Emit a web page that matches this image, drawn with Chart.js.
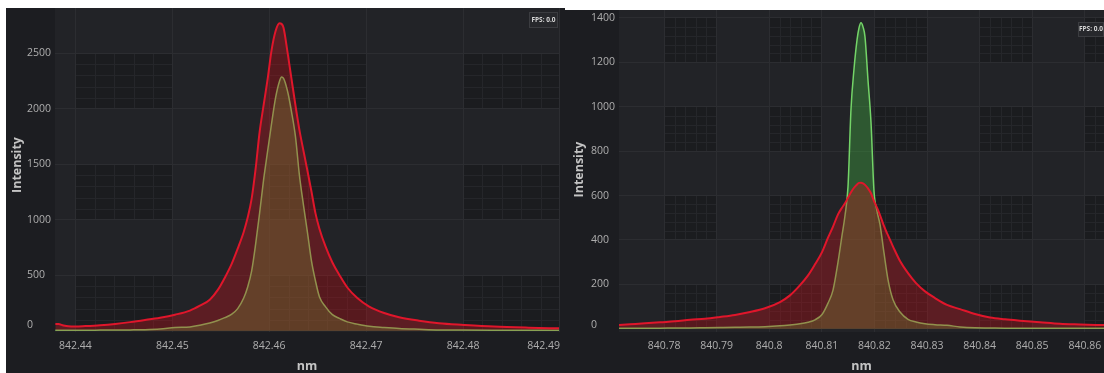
<!DOCTYPE html>
<html>
<head>
<meta charset="utf-8">
<script src="https://cdn.jsdelivr.net/npm/chart.js@4.4.1/dist/chart.umd.min.js"></script>
<style>
  html, body { margin: 0; padding: 0; background: #ffffff; width: 1104px; height: 373px; overflow: hidden; }
  canvas { position: absolute; display: block; background: #1c1d21; }
  #spectrumA { left: 6px; top: 8px; }
  #spectrumB { left: 565px; top: 10px; }
</style>
</head>
<body>
<canvas id="spectrumA" width="559" height="365"></canvas>
<canvas id="spectrumB" width="539" height="363"></canvas>
<script>
// ---- Spectrum A: line near 842.46 nm ----
const wavelengthA = [
  842.43794, 842.43825, 842.43877, 842.43928, 842.44000, 842.44103, 842.44257, 842.44411, 842.44565, 842.44719,
  842.44874, 842.45028, 842.45182, 842.45285, 842.45387, 842.45470, 842.45542, 842.45614, 842.45675, 842.45737,
  842.45778, 842.45819, 842.45860, 842.45901, 842.45942, 842.45984, 842.46025, 842.46066, 842.46107, 842.46127,
  842.46148, 842.46189, 842.46230, 842.46271, 842.46312, 842.46354, 842.46395, 842.46436, 842.46477, 842.46518,
  842.46580, 842.46652, 842.46724, 842.46806, 842.46909, 842.47032, 842.47186, 842.47340, 842.47546, 842.47751,
  842.48008, 842.48317, 842.48676, 842.48990
];
const redA = [
  60, 60, 48, 40, 38, 42, 50, 62, 78, 97,
  118, 145, 182, 226, 280, 368, 478, 605, 740, 890,
  1020, 1190, 1460, 1790, 2030, 2270, 2530, 2700, 2770, 2765,
  2730, 2510, 2270, 2030, 1808, 1620, 1440, 1255, 1060, 920,
  762, 615, 503, 390, 295, 218, 160, 122, 91, 68,
  53, 38, 28, 22
];
const greenA = [
  5, 5, 4, 4, 4, 5, 6, 7, 8, 10,
  16, 29, 35, 50, 70, 92, 118, 150, 200, 295,
  395, 540, 780, 1060, 1360, 1620, 1870, 2100, 2250, 2286,
  2275, 2160, 1975, 1750, 1400, 1130, 885, 630, 451, 307,
  218, 145, 112, 80, 60, 41, 30, 21, 14, 8,
  6, 5, 5, 5
];
const xTicksA = [842.44, 842.45, 842.46, 842.47, 842.48, 842.49];
const yTicksA = [0, 500, 1000, 1500, 2000, 2500];

// ---- Spectrum B: line near 840.82 nm ----
const wavelengthB = [
  840.77145, 840.77354, 840.77639, 840.77924, 840.78209, 840.78494, 840.78779, 840.79065, 840.79350, 840.79635,
  840.79920, 840.80205, 840.80395, 840.80586, 840.80738, 840.80871, 840.81004, 840.81118, 840.81213, 840.81308,
  840.81384, 840.81441, 840.81498, 840.81555, 840.81612, 840.81669, 840.81707, 840.81745, 840.81783, 840.81821,
  840.81878, 840.81935, 840.81992, 840.82049, 840.82106, 840.82183, 840.82259, 840.82354, 840.82487, 840.82639,
  840.82791, 840.82962, 840.83152, 840.83380, 840.83627, 840.83913, 840.84198, 840.84483, 840.84768, 840.85148,
  840.85529, 840.85909, 840.86365
];
const redB = [
  17, 20, 24, 29, 33, 40, 45, 53, 62, 75,
  92, 120, 150, 196, 240, 290, 345, 410, 460, 515,
  545, 565, 590, 615, 635, 650, 657, 658, 655, 648,
  632, 610, 575, 545, 512, 462, 420, 370, 305, 250,
  205, 168, 138, 107, 88, 66, 50, 42, 36, 29,
  22, 19, 16
];
const greenB = [
  2, 2, 2, 2, 3, 3, 4, 5, 6, 7,
  9, 13, 17, 22, 29, 40, 64, 115, 174, 300,
  420, 510, 640, 990, 1170, 1300, 1355, 1378, 1360, 1315,
  1120, 930, 620, 530, 470, 340, 220, 130, 75, 42,
  30, 22, 18, 15, 8, 4, 3, 2, 2, 2,
  2, 2, 2
];
const xTicksB = [840.78, 840.79, 840.8, 840.81, 840.82, 840.83, 840.84, 840.85, 840.86];
const yTicksB = [0, 200, 400, 600, 800, 1000, 1200, 1400];

const xTitle = 'nm';
const yTitle = 'Intensity';
const fpsText = 'FPS: 0.0';

// Chart-area background with alternating darker cells, tick labels, titles and the FPS badge
const panelPlugin = {
  id: 'panel',
  beforeDraw(chart) {
    const { ctx, chartArea: a, scales: { x, y } } = chart;
    ctx.save();
    ctx.fillStyle = '#222327';
    ctx.fillRect(a.left, a.top, a.right - a.left, a.bottom - a.top);
    ctx.beginPath();
    ctx.rect(a.left, a.top, a.right - a.left, a.bottom - a.top);
    ctx.clip();
    const xv = x.ticks.map(t => t.value);
    const yv = y.ticks.map(t => t.value);
    const dx = xv[1] - xv[0], dy = yv[1] - yv[0];
    for (let i = 0; i <= xv.length; i += 2) {
      for (let j = 0; j <= yv.length; j += 2) {
        const x0 = x.getPixelForValue(xv[0] + i * dx);
        const x1 = x.getPixelForValue(xv[0] + (i + 1) * dx);
        const y0 = y.getPixelForValue(yv[0] + (j + 1) * dy);
        const y1 = y.getPixelForValue(yv[0] + j * dy);
        ctx.fillStyle = '#1b1c1f';
        ctx.fillRect(x0, y0, x1 - x0, y1 - y0);
        ctx.strokeStyle = '#25262a';
        ctx.lineWidth = 1;
        ctx.beginPath();
        for (let k = 1; k < 5; k++) {
          const px = Math.round(x0 + (x1 - x0) * k / 5) + 0.5;
          ctx.moveTo(px, y0); ctx.lineTo(px, y1);
          const py = Math.round(y0 + (y1 - y0) * k / 5) + 0.5;
          ctx.moveTo(x0, py); ctx.lineTo(x1, py);
        }
        ctx.stroke();
      }
    }
    ctx.restore();
  },
  afterDraw(chart, args, opts) {
    const { ctx, chartArea: a, scales: { x, y } } = chart;
    ctx.save();
    ctx.fillStyle = '#adadad';
    ctx.font = '10.5px "Open Sans", sans-serif';
    ctx.textBaseline = 'middle';
    ctx.textAlign = 'left';
    x.ticks.forEach(t => {
      const s = String(t.value);
      const w = ctx.measureText(s).width;
      let l = x.getPixelForValue(t.value) - w / 2;
      if (l + w > a.right + 1) l = a.right + 1 - w;
      ctx.fillText(s, l, opts.xLabelY);
    });
    y.ticks.forEach(t => {
      const cy = Math.min(y.getPixelForValue(t.value), a.bottom - 7);
      ctx.fillText(String(t.value), opts.yLabelX, cy);
    });

    ctx.fillStyle = '#c4c4c4';
    ctx.font = 'bold 12.5px "Open Sans", sans-serif';
    ctx.textAlign = 'center';
    ctx.fillText(xTitle, (a.left + a.right) / 2, opts.xTitleY);
    ctx.translate(opts.yTitleX, opts.yTitleY);
    ctx.rotate(-Math.PI / 2);
    ctx.fillText(yTitle, 0, 0);
    ctx.setTransform(1, 0, 0, 1, 0, 0);

    const f = opts.fps;
    ctx.fillStyle = '#27282c';
    ctx.fillRect(f.x, f.y, f.w, f.h);
    ctx.strokeStyle = '#3b3c40';
    ctx.lineWidth = 1;
    ctx.strokeRect(f.x + 0.5, f.y + 0.5, f.w - 1, f.h - 1);
    ctx.fillStyle = '#d6d6d6';
    ctx.font = 'bold 6.5px "Open Sans", sans-serif';
    ctx.textAlign = 'center';
    ctx.fillText(fpsText, f.x + f.w / 2, f.y + f.h / 2);
    ctx.restore();
  }
};

function spectrumChart(id, wl, red, green, xRange, yRange, xTicks, yTicks, geom) {
  const pts = vals => wl.map((w, i) => ({ x: w, y: vals[i] }));
  const line = {
    pointRadius: 0,
    fill: 'origin',
    cubicInterpolationMode: 'monotone'
  };
  return new Chart(document.getElementById(id), {
    type: 'line',
    data: {
      datasets: [
        Object.assign({ label: 'Red', data: pts(red), borderColor: '#e0162b',
          backgroundColor: 'rgba(200,20,30,0.35)', borderWidth: 2 }, line),
        Object.assign({ label: 'Green', data: pts(green), borderColor: '#74d468',
          backgroundColor: 'rgba(70,190,70,0.35)', borderWidth: 1.5 }, line)
      ]
    },
    options: {
      responsive: false,
      animation: false,
      events: [],
      layout: { padding: { left: 0, top: 0, right: geom.padRight, bottom: 0 } },
      plugins: {
        legend: { display: false },
        tooltip: { enabled: false },
        panel: geom
      },
      scales: {
        x: {
          type: 'linear',
          min: xRange[0], max: xRange[1],
          afterBuildTicks: s => { s.ticks = xTicks.map(v => ({ value: v })); },
          afterFit: s => { s.height = geom.xAxisHeight; },
          ticks: { display: false },
          grid: { color: '#2c2d31', lineWidth: 1, drawTicks: false },
          border: { display: false }
        },
        y: {
          min: yRange[0], max: yRange[1],
          afterBuildTicks: s => { s.ticks = yTicks.map(v => ({ value: v })); },
          afterFit: s => { s.width = geom.yAxisWidth; },
          ticks: { display: false },
          grid: { color: '#2c2d31', lineWidth: 1, drawTicks: false },
          border: { display: false }
        }
      }
    },
    plugins: [panelPlugin]
  });
}

spectrumChart('spectrumA', wavelengthA, redA, greenA,
  [842.4379, 842.4899], [-11, 2908], xTicksA, yTicksA,
  { padRight: 6, xAxisHeight: 41, yAxisWidth: 49, yLabelX: 21, xLabelY: 338,
    xTitleY: 358.7, yTitleX: 11.5, yTitleY: 157, fps: { x: 523, y: 4, w: 29, h: 16 } });

spectrumChart('spectrumB', wavelengthB, redB, greenB,
  [840.77144, 840.86365], [-15, 1436], xTicksB, yTicksB,
  { padRight: 0, xAxisHeight: 41, yAxisWidth: 54, yLabelX: 26, xLabelY: 336,
    xTitleY: 356.7, yTitleX: 14, yTitleY: 159.5, fps: { x: 513, y: 12, w: 26, h: 15 } });
</script>
</body>
</html>
